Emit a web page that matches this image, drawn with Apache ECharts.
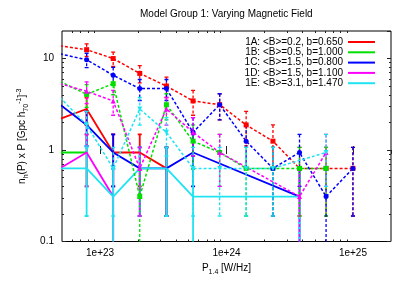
<!DOCTYPE html>
<html><head><meta charset="utf-8">
<script src="https://cdn.jsdelivr.net/npm/echarts@6/dist/echarts.min.js"></script>
<style>html,body{margin:0;padding:0;background:#fff}#c{width:407px;height:285px}</style>
</head><body><div id="c"></div>
<script>
// ---------- data ----------
const xBins = [4.82e22, 7.83e22, 1.27e23, 2.06e23, 3.35e23, 5.44e23, 8.83e23, 1.43e24, 2.33e24, 3.78e24, 6.13e24, 1.0e25];
const modelNames = ['1A: <B>=0.2, b=0.650', '1B: <B>=0.5, b=1.000', '1C: <B>=1.5, b=0.800', '1D: <B>=1.5, b=1.100', '1E: <B>=3.1, b=1.470'];
const modelColors = ['#ff0000', '#00e000', '#0000ff', '#ff00ff', '#1ee4f2'];

// solid curves (value, error)
const solidA = [2.19, 2.81, 0.94, 0.94, 0.63, null, null, null, null, null, null, null];
const solidAErr = [0.83, 0.94, 0.54, 0.54, 0.44, null, null, null, null, null, null, null];
const solidB = [0.94, 0.94, null, null, null, null, null, null, null, null, null, null];
const solidBErr = [0.54, 0.54, null, null, null, null, null, null, null, null, null, null];
const solidC = [3.13, 1.88, 0.94, 0.63, 0.63, 0.94, null, null, null, 0.31, null, null];
const solidCErr = [0.99, 0.77, 0.54, 0.44, 0.44, 0.54, null, null, null, 0.31, null, null];
const solidD = [0.63, 0.94, 0.31, null, null, null, null, null, null, null, null, null];
const solidDErr = [0.44, 0.54, 0.31, null, null, null, null, null, null, null, null, null];
const solidE = [0.63, 0.63, 0.31, 0.63, 0.63, 0.31, null, null, null, 0.31, null, null];
const solidEErr = [0.44, 0.44, 0.31, 0.44, 0.44, 0.31, null, null, null, 0.31, null, null];

// dotted curves with points (value, error)
const dotA = [13.75, 12.5, 10.0, 6.88, 5.0, 3.44, 3.13, 1.88, 1.25, 0.63, 0.63, 0.63];
const dotAErr = [2.07, 1.98, 1.77, 1.47, 1.25, 1.04, 0.99, 0.77, 0.63, 0.44, 0.44, 0.44];
const dotB = [5.63, 4.06, 5.31, 0.31, 3.13, 1.25, 0.94, 0.63, 0.63, 0.63, 0.63, null];
const dotBErr = [1.33, 1.13, 1.29, 0.31, 0.99, 0.63, 0.54, 0.44, 0.44, 0.44, 0.44, null];
const dotC = [11.25, 9.69, 6.56, 4.69, 4.69, 1.56, 3.13, 1.25, 0.63, 0.94, 0.31, 0.63];
const dotCErr = [1.88, 1.74, 1.43, 1.21, 1.21, 0.70, 0.99, 0.63, 0.44, 0.54, 0.31, 0.44];
const dotD = [5.31, 4.38, 3.44, 0.63, 2.81, 1.56, 0.94, null, null, 0.31, 0.94, null];
const dotDErr = [1.29, 1.17, 1.04, 0.44, 0.94, 0.70, 0.54, null, null, 0.31, 0.54, null];
const dotE = [3.75, 1.88, 0.63, 2.81, 1.56, 0.63, 0.63, 0.63, 0.63, null, 0.94, null];
const dotEErr = [1.08, 0.77, 0.44, 0.94, 0.70, 0.44, 0.44, 0.44, 0.44, null, 0.54, null];

// ticks
const xTickValues = [1e23, 1e24, 1e25];
const xTickLabels = ['1e+23', '1e+24', '1e+25'];
const yTickValues = [0.1, 1, 10];
const yTickLabels = ['0.1', '1', '10'];
const xMinorTicks = [6e22, 7e22, 8e22, 9e22, 2e23, 3e23, 4e23, 5e23, 6e23, 7e23, 8e23, 9e23, 2e24, 3e24, 4e24, 5e24, 6e24, 7e24, 8e24, 9e24];
const yMinorTicks = [0.2, 0.3, 0.4, 0.5, 0.6, 0.7, 0.8, 0.9, 2, 3, 4, 5, 6, 7, 8, 9];
const xMin = 5e22, xMax = 2e25, yMin = 0.1, yMax = 20;

const solids = [[solidA, solidAErr], [solidB, solidBErr], [solidC, solidCErr], [solidD, solidDErr], [solidE, solidEErr]];
const dots = [[dotA, dotAErr], [dotB, dotBErr], [dotC, dotCErr], [dotD, dotDErr], [dotE, dotEErr]];
const dotSymbols = ['rect', 'rect', 'circle', 'triangle', 'triangle'];
const dotRot = [0, 0, 0, 0, 180];

// ---------- chart ----------
const FONT = 'Liberation Sans, Arial, sans-serif';
function nearestLabel(v, vals, labels) {
  let best = 0, bd = Infinity;
  vals.forEach((t, i) => { const d = Math.abs(Math.log10(v) - Math.log10(t)); if (d < bd) { bd = d; best = i; } });
  return bd < 0.05 ? labels[best] : '';
}
function lineData(vals) {
  const out = [];
  vals.forEach((v, i) => { if (v != null) out.push([xBins[i], v]); });
  return out;
}
function errData(vals, errs) {
  const out = [];
  vals.forEach((v, i) => { if (v != null) out.push([xBins[i], v - errs[i], v + errs[i]]); });
  return out;
}
function errRender(color, dashed, width) {
  return function (params, api) {
    const x = api.value(0), lo = api.value(1), hi = api.value(2);
    const cs = params.coordSys;
    const top = api.coord([x, hi]);
    const hasLo = lo > 0.01;
    const by = hasLo ? api.coord([x, lo])[1] : cs.y + cs.height + 10;
    const st = { stroke: color, lineWidth: width, fill: null };
    if (dashed) st.lineDash = [3, 2];
    const children = [
      { type: 'line', shape: { x1: top[0], y1: top[1], x2: top[0], y2: by }, style: st },
      { type: 'line', shape: { x1: top[0] - 2, y1: top[1], x2: top[0] + 2, y2: top[1] }, style: { stroke: color, lineWidth: width } }
    ];
    if (hasLo) children.push({ type: 'line', shape: { x1: top[0] - 2, y1: by, x2: top[0] + 2, y2: by }, style: { stroke: color, lineWidth: width } });
    return { type: 'group', children: children };
  };
}

const series = [];
for (let m = 0; m < 5; m++) {
  const c = modelColors[m];
  series.push({
    name: modelNames[m], type: 'line', xAxisIndex: 0, yAxisIndex: 0,
    data: lineData(solids[m][0]), showSymbol: false, clip: true,
    lineStyle: { color: c, width: 1.8 }, itemStyle: { color: c }, z: 3
  });
  series.push({
    name: 'err-solid-' + m, type: 'custom', xAxisIndex: 0, yAxisIndex: 0, clip: true,
    data: errData(solids[m][0], solids[m][1]), encode: { x: 0, y: 2 },
    renderItem: errRender(c, false, 1.8), z: 3
  });
  series.push({
    name: 'dot-' + m, type: 'line', xAxisIndex: 0, yAxisIndex: 0,
    data: lineData(dots[m][0]), showSymbol: true, symbol: dotSymbols[m], symbolRotate: dotRot[m], symbolSize: 5, clip: true,
    lineStyle: { color: c, width: 1.5, type: [3, 2] }, itemStyle: { color: c }, z: 4
  });
  series.push({
    name: 'err-dot-' + m, type: 'custom', xAxisIndex: 0, yAxisIndex: 0, clip: true,
    data: errData(dots[m][0], dots[m][1]), encode: { x: 0, y: 2 },
    renderItem: errRender(c, true, 1.3), z: 4
  });
}

const tickColor = '#222';
const logX = (pos, label) => ({
  type: 'log', logBase: 10, min: xMin, max: xMax, position: pos, gridIndex: 0,
  axisLine: { show: false }, splitLine: { show: false },
  axisTick: { show: true, inside: true, length: 4, lineStyle: { color: tickColor } },
  axisLabel: { show: label, showMinLabel: false, showMaxLabel: false, margin: 7, fontSize: 10, color: '#000', fontFamily: FONT,
    formatter: v => nearestLabel(v, xTickValues, xTickLabels) }
});
const logY = (pos, label) => ({
  type: 'log', logBase: 10, min: yMin, max: yMax, position: pos, gridIndex: 0,
  axisLine: { show: false }, splitLine: { show: false },
  axisTick: { show: true, inside: true, length: 4, lineStyle: { color: tickColor } },
  axisLabel: { show: label, showMinLabel: true, showMaxLabel: false, margin: 8, fontSize: 10, color: '#000', fontFamily: FONT,
    formatter: v => nearestLabel(v, yTickValues, yTickLabels) }
});
const minorAx = (pos, lo, hi, ticks) => ({
  type: 'value', min: Math.log10(lo), max: Math.log10(hi), position: pos, gridIndex: 0,
  axisLine: { show: false }, splitLine: { show: false }, axisLabel: { show: false },
  axisTick: { show: true, inside: true, length: 2, customValues: ticks.map(t => Math.log10(t)), lineStyle: { color: tickColor } }
});

const xMain = logX('bottom', true);
xMain.name = '{t|P}{sub|1.4}{t| [W/Hz]}';
xMain.nameLocation = 'middle';
xMain.nameGap = 18;
xMain.nameTextStyle = {
  rich: {
    t: { fontSize: 10, fontFamily: FONT, color: '#000', lineHeight: 14, verticalAlign: 'middle' },
    sub: { fontSize: 7, fontFamily: FONT, color: '#000', lineHeight: 14, verticalAlign: 'bottom' }
  }
};
const yMain = logY('left', true);
yMain.name = '{t|n}{sub|h}{t|(P) x P [Gpc h}{sub|70}{sup|-1}{t|]}{sup|-3}';
yMain.nameLocation = 'middle';
yMain.nameRotate = 90;
yMain.nameGap = 25;
yMain.nameTextStyle = {
  rich: {
    t: { fontSize: 10, fontFamily: FONT, color: '#000', lineHeight: 14, verticalAlign: 'middle' },
    sub: { fontSize: 7, fontFamily: FONT, color: '#000', lineHeight: 14, verticalAlign: 'bottom' },
    sup: { fontSize: 7, fontFamily: FONT, color: '#000', lineHeight: 14, verticalAlign: 'top' }
  }
};

const option = {
  animation: false,
  backgroundColor: '#fff',
  title: {
    text: 'Model Group 1: Varying Magnetic Field',
    left: 140, top: 9, padding: 0,
    textStyle: { fontSize: 10, fontWeight: 'normal', color: '#000', fontFamily: FONT }
  },
  grid: { left: 62, right: 16, top: 31, bottom: 43.5, show: true, borderColor: '#000', borderWidth: 1, backgroundColor: 'transparent' },
  legend: {
    data: modelNames, orient: 'vertical', align: 'right', right: 27, top: 32,
    icon: 'rect', itemWidth: 27, itemHeight: 2, itemGap: 0.3, selectedMode: false,
    textStyle: { fontSize: 10, fontFamily: FONT, color: '#000', lineHeight: 10 }
  },
  xAxis: [xMain, logX('top', false), minorAx('bottom', xMin, xMax, xMinorTicks), minorAx('top', xMin, xMax, xMinorTicks)],
  yAxis: [yMain, logY('right', false), minorAx('left', yMin, yMax, yMinorTicks), minorAx('right', yMin, yMax, yMinorTicks)],
  series: series
};
const chart = echarts.init(document.getElementById('c'), null, { renderer: 'canvas' });
chart.setOption(option);
</script>
</body></html>
